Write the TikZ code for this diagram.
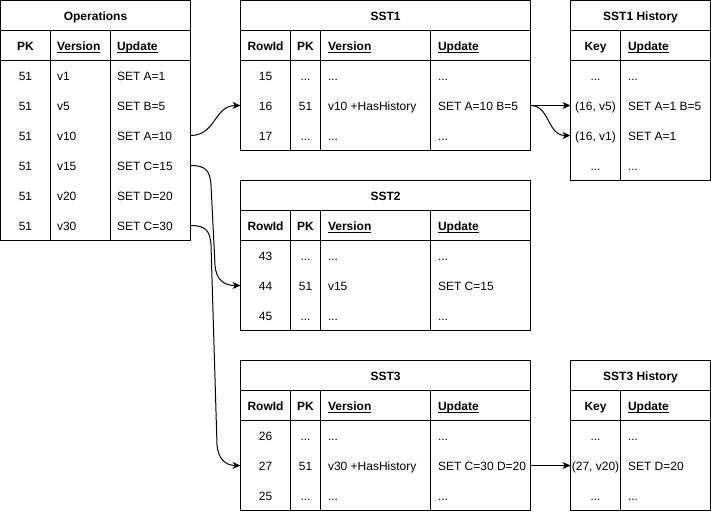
\documentclass[tikz,border=0pt]{standalone}
\usepackage{fontspec}
\setmainfont{Liberation Sans}
\usetikzlibrary{arrows.meta}
\newcount\cellno
\newcommand\dd{...}
\newcommand\ulin[1]{\setbox0\hbox{#1}\rlap{\rule[-2.5pt]{\wd0}{0.9pt}}\box0}
\newcommand\cellC[3]{\global\advance\cellno by 1 \node[celltxt, anchor=base] (cell\the\cellno) at (#1,#2+5) {#3};}
\newcommand\cellL[3]{\global\advance\cellno by 1 \node[celltxt, anchor=base west] (cell\the\cellno) at (#1,#2+5) {#3};}
\newcommand\headC[3]{\global\advance\cellno by 1 \node[celltxt, font=\fontsize{12}{14}\selectfont\bfseries, anchor=base] (cell\the\cellno) at (#1,#2+5) {#3};}
\newcommand\headU[3]{\global\advance\cellno by 1 \node[celltxt, font=\fontsize{12}{14}\selectfont\bfseries, anchor=base west] (cell\the\cellno) at (#1,#2+5) {\ulin{#3}};}
\begin{document}
\begin{tikzpicture}[x=1pt,y=-1pt,
  frame/.style={draw=black, line width=1pt, inner sep=0pt, outer sep=0pt, fill=white},
  grid/.style={draw=black, line width=1pt},
  celltxt/.style={inner sep=0pt, outer sep=0pt, font=\fontsize{12}{14}\selectfont},
  link/.style={draw=black, line width=1pt, -{Stealth[length=8pt,width=7pt,inset=2.5pt]}}]
\useasboundingbox (0,0) rectangle (711,512);

% ---------------- Operations ----------------
\node[frame, minimum width=190pt, minimum height=240pt] (ops) at (95.5,120.5) {};
\draw[grid] (0.5,30.5) -- (190.5,30.5) (0.5,60.5) -- (190.5,60.5)
  (50.5,30.5) -- (50.5,240.5) (110.5,30.5) -- (110.5,240.5);
\headC{95.5}{15}{Operations}
\headC{25.5}{45}{PK}
\headU{57}{45}{Version}
\headU{117}{45}{Update}
\foreach \y/\v/\u in {75/v1/SET A=1, 105/v5/SET B=5, 135/v10/SET A=10, 165/v15/SET C=15, 195/v20/SET D=20, 225/v30/SET C=30}{
  \cellC{25.5}{\y}{51}
  \cellL{57}{\y}{\v}
  \cellL{117}{\y}{\u}
}

% ---------------- SST tables ----------------
\foreach \t/\top in {SST1/0, SST2/180, SST3/360}{
  \node[frame, minimum width=290pt, minimum height=150pt] (\t box) at (385.5,\top+75.5) {};
  \draw[grid] (240.5,\top+30.5) -- (530.5,\top+30.5) (240.5,\top+60.5) -- (530.5,\top+60.5)
    (290.5,\top+30.5) -- (290.5,\top+150.5) (320.5,\top+30.5) -- (320.5,\top+150.5)
    (430.5,\top+30.5) -- (430.5,\top+150.5);
  \headC{385.5}{\top+15}{\t}
  \headC{265.5}{\top+45}{RowId}
  \headC{305.5}{\top+45}{PK}
  \headU{328}{\top+45}{Version}
  \headU{438}{\top+45}{Update}
}
% SST1 rows
\foreach \y/\r/\p/\v/\u in {75/15/\dd/\dd/\dd, 105/16/51/v10 +HasHistory/SET A=10 B=5, 135/17/\dd/\dd/\dd}{
  \cellC{265.5}{\y}{\r}
  \cellC{305.5}{\y}{\p}
  \cellL{328}{\y}{\v}
  \cellL{438}{\y}{\u}
}
% SST2 rows
\foreach \y/\r/\p/\v/\u in {255/43/\dd/\dd/\dd, 285/44/51/v15/SET C=15, 315/45/\dd/\dd/\dd}{
  \cellC{265.5}{\y}{\r}
  \cellC{305.5}{\y}{\p}
  \cellL{328}{\y}{\v}
  \cellL{438}{\y}{\u}
}
% SST3 rows
\foreach \y/\r/\p/\v/\u in {435/26/\dd/\dd/\dd, 465/27/51/v30 +HasHistory/SET C=30 D=20, 495/25/\dd/\dd/\dd}{
  \cellC{265.5}{\y}{\r}
  \cellC{305.5}{\y}{\p}
  \cellL{328}{\y}{\v}
  \cellL{438}{\y}{\u}
}

% ---------------- History tables ----------------
\node[frame, minimum width=140pt, minimum height=180pt] (h1box) at (640.5,90.5) {};
\draw[grid] (570.5,30.5) -- (710.5,30.5) (570.5,60.5) -- (710.5,60.5) (620.5,30.5) -- (620.5,180.5);
\headC{640.5}{15}{SST1 History}
\headC{595.5}{45}{Key}
\headU{628}{45}{Update}
\foreach \y/\k/\u in {75/\dd/\dd, 105/{(16, v5)}/SET A=1 B=5, 135/{(16, v1)}/SET A=1, 165/\dd/\dd}{
  \cellC{595.5}{\y}{\k}
  \cellL{628}{\y}{\u}
}

\node[frame, minimum width=140pt, minimum height=150pt] (h3box) at (640.5,435.5) {};
\draw[grid] (570.5,390.5) -- (710.5,390.5) (570.5,420.5) -- (710.5,420.5) (620.5,390.5) -- (620.5,510.5);
\headC{640.5}{375}{SST3 History}
\headC{595.5}{405}{Key}
\headU{628}{405}{Update}
\foreach \y/\k/\u in {435/\dd/\dd, 465/{(27, v20)}/SET D=20, 495/\dd/\dd}{
  \cellC{595.5}{\y}{\k}
  \cellL{628}{\y}{\u}
}

% ---------------- ports ----------------
\coordinate (opsV10) at (190.5,135.5);
\coordinate (opsV15) at (190.5,165.5);
\coordinate (opsV30) at (190.5,225.5);
\coordinate (sstAin) at (240.5,105.5);
\coordinate (sstAout) at (530.5,105.5);
\coordinate (sstBin) at (240.5,285.5);
\coordinate (sstCin) at (240.5,465.5);
\coordinate (sstCout) at (530.5,465.5);
\coordinate (histAa) at (570.5,105.5);
\coordinate (histAb) at (570.5,135.5);
\coordinate (histC) at (570.5,465.5);

% ---------------- connectors ----------------
\draw[link] (opsV10) .. controls (216,135.5) and (214,105.5) .. (sstAin);
\draw[link] (opsV15) .. controls (205,165.5) and (210,170) .. (211,185)
  -- (215,265) .. controls (216,280) and (224,285.5) .. (sstBin);
\draw[link] (opsV30) .. controls (205,225.5) and (210,230) .. (211,245)
  -- (217,445) .. controls (218,458) and (225,465.5) .. (sstCin);
\draw[link] (sstAout) -- (histAa);
\draw[link] (sstAout) .. controls (550,105.5) and (547,135.5) .. (histAb);
\draw[link] (sstCout) -- (histC);
\end{tikzpicture}
\end{document}
